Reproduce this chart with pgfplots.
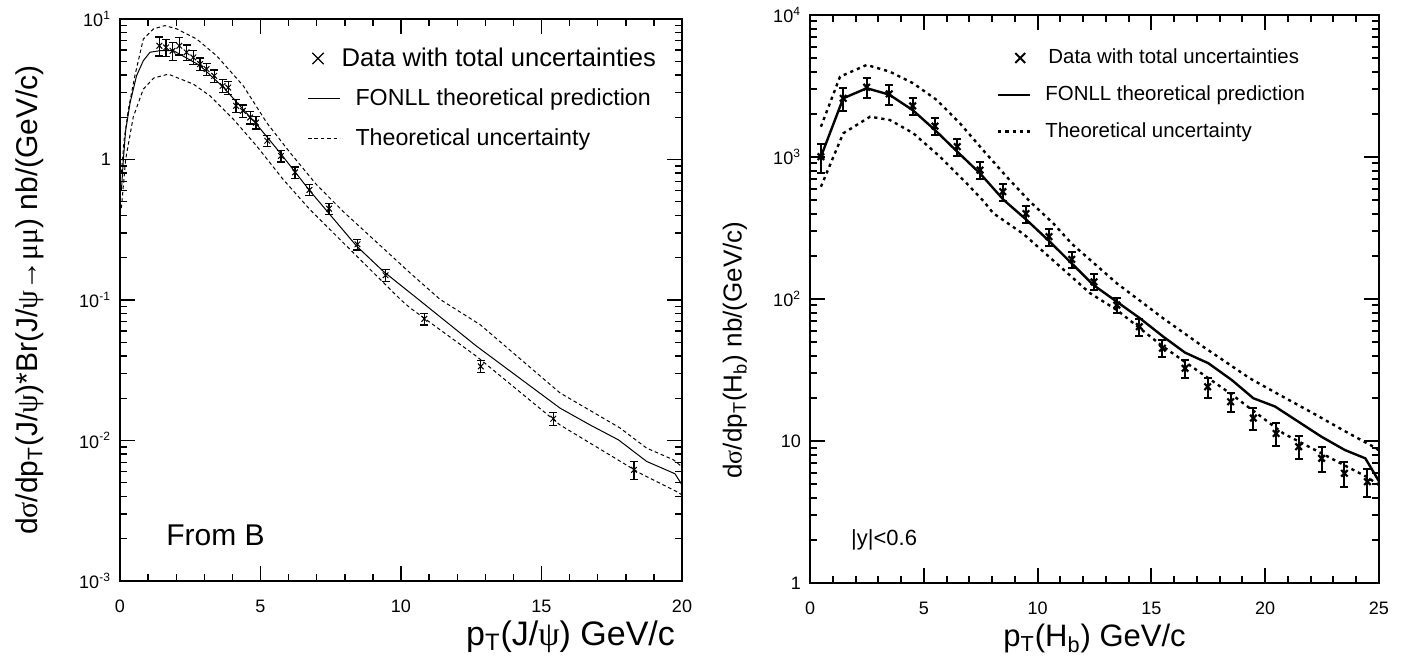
\documentclass[border=0pt]{standalone}
\usepackage{fontspec}
\setmainfont{Liberation Sans}
\newfontfamily\grk{Liberation Serif}
\usepackage{pgfplots}
\pgfplotsset{compat=1.18}
\pgfplotsset{
  linelegend/.style={legend image code/.code={\draw[##1] (0pt,0pt) -- (16pt,0pt);}},
  marklegendL/.style={legend image code/.code={\draw[mark repeat=2,mark phase=2,##1] plot coordinates {(0pt,0pt) (5pt,0pt) (16pt,0pt)};}},
  marklegendR/.style={legend image code/.code={\draw[mark repeat=2,mark phase=2,##1] plot coordinates {(0pt,0pt) (11pt,0pt) (16pt,0pt)};}},
  every axis/.append style={
    scale only axis, anchor=south west,
    /pgf/number format/assume math mode=true,
    ticklabel style={font=\fontsize{9}{10}\selectfont},
    major tick length=7.5pt, minor tick length=3.5pt,
    minor x tick num=4,
    legend cell align=left,
  },
}
\begin{document}
\begin{tikzpicture}
\useasboundingbox (0,0) rectangle (705pt,330pt);
% ---------------- left panel ----------------
\begin{axis}[
  at={(60pt,39.5pt)}, width=281pt, height=281pt,
  xmin=0, xmax=20, ymode=log, ymin=1e-3, ymax=10,
  xtick={0,5,10,15,20},
  ytick={1e-3,1e-2,1e-1,1,10},
  yticklabels={10\textsuperscript{-3},10\textsuperscript{-2},10\textsuperscript{-1},1,10\textsuperscript{1}},
  minor ytick={2e-3,3e-3,4e-3,5e-3,6e-3,7e-3,8e-3,9e-3,2e-2,3e-2,4e-2,5e-2,6e-2,7e-2,8e-2,9e-2,0.2,0.3,0.4,0.5,0.6,0.7,0.8,0.9,2,3,4,5,6,7,8,9},
  axis line style={line width=1pt},
  tick style={line width=0.7pt, black},
  xticklabel style={anchor=center, yshift=-12.5pt},
  yticklabel style={xshift=-1pt},
  xlabel={p\textsubscript{T}(J/{\grk ψ}) GeV/c},
  xlabel style={at={(axis description cs:1,-0.114)}, anchor=base east, font=\fontsize{17}{20}\selectfont},
  ylabel={d{\grk σ}/dp\textsubscript{T}(J/{\grk ψ})*Br(J/{\grk ψ→μμ}) nb/(GeV/c)},
  ylabel style={at={(axis description cs:-0.16,0.5)}, anchor=center, font=\fontsize{15}{18}\selectfont},
  legend style={at={(axis description cs:0.333,0.955)}, anchor=north west, draw=none, fill=none,
    font=\fontsize{11.6}{14}\selectfont, row sep=6.8pt, inner sep=0pt, nodes={inner sep=1.5pt},
    /tikz/every odd column/.append style={column sep=6pt}},
]
\addplot[only marks, mark=x, mark size=2pt, black, line width=0.5pt, marklegendL,
  legend image post style={mark size=4pt, line width=0.6pt},
  error bars/.cd, y dir=both, y explicit, error bar style={line width=0.6pt}, error mark options={rotate=90, mark size=2pt, line width=0.6pt}]
table[x=x, y=y, y error=e] {
x y e
1.40 6.45 1.0
1.64 6.28 0.9
1.87 5.94 0.9
2.11 6.45 0.9
2.37 5.79 0.75
2.61 5.33 0.6
2.85 4.78 0.5
3.08 4.40 0.45
3.35 3.94 0.4
3.65 3.34 0.35
3.85 3.25 0.35
4.13 2.41 0.25
4.37 2.22 0.22
4.63 1.99 0.2
4.84 1.83 0.18
5.24 1.36 0.13
5.73 1.06 0.1
6.23 0.81 0.075
6.74 0.607 0.055
7.44 0.447 0.04
8.45 0.249 0.022
9.45 0.150 0.014
10.83 0.0735 0.007
12.84 0.0337 0.0033
15.42 0.0143 0.0015
18.29 0.00618 0.0009
};
\addlegendentry{\hspace*{-7pt}\fontsize{12.8}{14}\selectfont Data with total uncertainties}
\addplot[black, line width=0.5pt, linelegend] table {
0.05 0.6
0.12 1.0
0.2 1.6
0.36 2.54
0.59 3.95
0.83 5.05
1.07 5.8
1.42 5.95
1.9 5.95
2.85 4.66
3.68 3.26
4.86 1.78
5.69 1.12
6.76 0.597
8.42 0.242
9.37 0.160
10.62 0.101
12.69 0.0469
15.66 0.0170
16.73 0.0129
17.74 0.0101
18.74 0.0071
19.75 0.0058
20.0 0.00483
};
\addlegendentry{FONLL theoretical prediction}
\addplot[black, line width=0.5pt, dash pattern=on 1.8pt off 1.4pt, linelegend] table {
0.05 0.8
0.15 1.4
0.3 2.28
0.53 3.95
0.83 7.2
1.19 8.5
1.6 8.97
2.02 8.5
2.73 7.2
3.44 5.47
4.39 3.34
5.22 1.83
6.05 1.12
7.0 0.66
7.95 0.425
9.13 0.258
10.32 0.156
11.39 0.101
12.81 0.0669
15.66 0.0218
17.79 0.0123
18.74 0.00883
19.69 0.0073
20.0 0.0065
};
\addlegendentry{Theoretical uncertainty}
\addplot[black, line width=0.5pt, dash pattern=on 1.8pt off 1.4pt, forget plot] table {
0.05 0.45
0.2 1.0
0.47 2.0
0.83 3.17
1.2 3.8
1.72 4.05
2.61 3.44
3.2 2.84
4.03 1.94
4.86 1.25
5.81 0.72
6.76 0.44
7.95 0.255
10.0 0.1
10.32 0.088
12.69 0.0397
15.66 0.0129
18.5 0.00586
19.8 0.00434
20.0 0.0041
};
\node[anchor=west, font=\fontsize{15}{18}\selectfont] at (rel axis cs:0.07,0.082) {From B};
\end{axis}
% ---------------- right panel ----------------
\begin{axis}[
  at={(405pt,38.5pt)}, width=284.5pt, height=284pt,
  xmin=0, xmax=25, ymode=log, ymin=1, ymax=1e4,
  xtick={0,5,10,15,20,25},
  ytick={1,10,100,1000,10000},
  yticklabels={1,10,10\textsuperscript{2},10\textsuperscript{3},10\textsuperscript{4}},
  minor ytick={2,3,4,5,6,7,8,9,20,30,40,50,60,70,80,90,200,300,400,500,600,700,800,900,2000,3000,4000,5000,6000,7000,8000,9000},
  axis line style={line width=1.3pt},
  tick style={line width=1pt, black},
  xticklabel style={anchor=center, yshift=-12.5pt},
  yticklabel style={xshift=-1pt},
  xlabel={p\textsubscript{T}(H\textsubscript{b}) GeV/c},
  xlabel style={at={(axis description cs:0.5,-0.112)}, anchor=base, font=\fontsize{15.5}{18}\selectfont},
  ylabel={d{\grk σ}/dp\textsubscript{T}(H\textsubscript{b}) nb/(GeV/c)},
  ylabel style={at={(axis description cs:-0.132,0.41)}, anchor=center, font=\fontsize{13}{16}\selectfont},
  legend style={at={(axis description cs:0.328,0.946)}, anchor=north west, draw=none, fill=none,
    font=\fontsize{10.2}{12}\selectfont, row sep=6.5pt, inner sep=0pt, nodes={inner sep=1.5pt},
    /tikz/every odd column/.append style={column sep=5.5pt}},
]
\addplot[only marks, mark=x, mark size=2.3pt, black, line width=1.1pt, marklegendR,
  legend image post style={mark size=3.5pt, line width=1pt},
  error bars/.cd, y dir=both, y explicit, error bar style={line width=1pt}, error mark options={rotate=90, mark size=2pt, line width=1pt}]
table[x=x, y=y, y error=e] {
x y e
0.48 1005 231
1.46 2590 477
2.49 3100 499
3.48 2780 448
4.51 2290 316
5.49 1650 228
6.47 1183 163
7.47 809 112
8.47 570 79
9.49 399 55
10.5 275 38
11.5 190 26
12.48 132 16.8
13.48 90.7 11.5
14.47 63.9 8.8
15.48 45.0 6.2
16.48 32.5 4.9
17.47 24.1 3.9
18.48 18.9 3.0
19.48 14.5 2.5
20.48 11.3 2.1
21.47 9.12 1.7
22.48 7.55 1.5
23.48 5.92 1.2
24.49 5.17 1.13
};
\addlegendentry{\hspace*{1.5pt}Data with total uncertainties}
\addplot[black, line width=1.2pt, linelegend] table {
0.48 1005
1.46 2590
2.49 3050
3.48 2750
4.51 2140
5.49 1549
6.47 1090
7.47 767
8.5 500
9.52 360
10.54 253
11.5 178
12.45 125.5
13.48 95.7
14.5 73.1
15.52 54.3
16.48 41.9
17.5 35.3
18.53 26.9
19.48 20.0
20.43 17.5
21.45 13.7
22.48 10.7
23.5 8.64
24.4 7.55
25.0 5.2
};
\addlegendentry{FONLL theoretical prediction}
\addplot[black, line width=1.2pt, dash pattern=on 1.6pt off 2pt, linelegend] table {
0.48 1634
1.32 3680
2.49 4450
3.51 3990
4.54 3300
5.57 2520
6.59 1726
7.6 1120
8.64 726
9.67 484
10.69 341
11.5 245
13.48 129
15.52 73.1
17.28 46.1
19.33 27.6
20.5 21.7
22.26 15.2
23.43 11.9
24.75 9.12
25.0 8.6
};
\addlegendentry{Theoretical uncertainty}
\addplot[black, line width=1.2pt, dash pattern=on 1.6pt off 2pt, forget plot] table {
0.48 618
1.46 1468
2.64 1923
3.51 1822
4.54 1469
5.71 1005
6.88 653
7.62 490
8.05 402
9.4 285
12.3 110
13.48 83.7
15.52 46.1
18.45 21.7
20.8 11.3
24.45 5.6
25.0 4.9
};
\node[anchor=west, font=\fontsize{11}{13}\selectfont] at (rel axis cs:0.06,0.076) {|y|<0.6};
\end{axis}
\end{tikzpicture}
\end{document}
